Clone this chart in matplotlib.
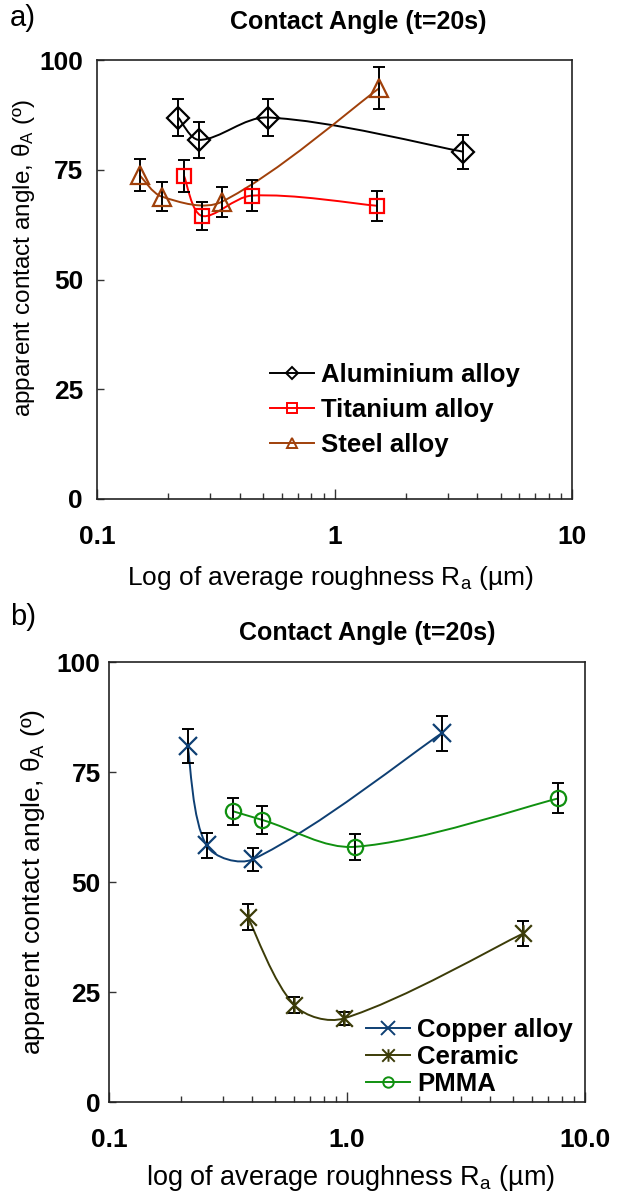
import numpy as np
import matplotlib
matplotlib.use('Agg')
import matplotlib.pyplot as plt
from matplotlib.path import Path
from matplotlib.patches import PathPatch
from matplotlib.lines import Line2D
from matplotlib.ticker import LogLocator, NullFormatter

plt.rcParams['font.family'] = ['Liberation Sans', 'DejaVu Sans']
plt.rcParams['mathtext.fontset'] = 'custom'
plt.rcParams['mathtext.rm'] = 'Liberation Sans'
plt.rcParams['mathtext.it'] = 'Liberation Sans'
plt.rcParams['mathtext.bf'] = 'Liberation Sans:bold'
plt.rcParams['mathtext.default'] = 'regular'

# ---------------- data ----------------
# panel a
al_x = [0.22, 0.269, 0.523, 3.49]
al_y = [86.9, 81.8, 86.9, 79.1]
al_err = [4.3, 4.1, 4.3, 3.9]
ti_x = [0.2325, 0.276, 0.448, 1.505]
ti_y = [73.6, 64.5, 69.1, 66.8]
ti_err = [3.7, 3.2, 3.5, 3.4]
st_x = [0.151, 0.187, 0.335, 1.545]
st_y = [73.8, 68.9, 67.7, 93.6]
st_err = [3.7, 3.4, 3.4, 4.7]
# panel b
cu_x = [0.214, 0.257, 0.404, 2.50]
cu_y = [80.9, 58.3, 55.2, 83.8]
cu_err = [3.9, 2.8, 2.6, 4.0]
ce_x = [0.383, 0.601, 0.971, 5.5]
ce_y = [42.0, 22.0, 19.0, 38.3]
ce_err = [3.0, 1.8, 1.5, 2.8]
pm_x = [0.331, 0.4407, 1.08, 7.73]
pm_y = [66.1, 64.1, 58.0, 69.0]
pm_err = [3.1, 3.2, 3.0, 3.4]

y_ticks = [0, 25, 50, 75, 100]
xa_ticks = [0.1, 1, 10]
xa_labels = ['0.1', '1', '10']
xb_labels = ['0.1', '1.0', '10.0']

labels_a = ['Aluminium alloy', 'Titanium alloy', 'Steel alloy']
labels_b = ['Copper alloy', 'Ceramic', 'PMMA']

c_al, c_ti, c_st = 'black', '#FF0000', '#A0400A'
c_cu, c_ce, c_pm = '#0E3F73', '#3C3C08', '#109010'

asterisk = Path([(-1, -1), (1, 1), (-1, 1), (1, -1), (0, -1), (0, 1)],
                [Path.MOVETO, Path.LINETO, Path.MOVETO, Path.LINETO,
                 Path.MOVETO, Path.LINETO])

W, H = 618, 1196
fig = plt.figure(figsize=(W / 100, H / 100), dpi=100)


def ax_at(l, t, r, b):
    return fig.add_axes([l / W, 1 - b / H, (r - l) / W, (b - t) / H])


def smooth(ax, xs, ys, color, lw=1.4):
    P = ax.transData.transform(np.column_stack([xs, ys]))
    n = len(P)
    verts = [P[0]]
    codes = [Path.MOVETO]
    for i in range(n - 1):
        p0 = P[max(i - 1, 0)]
        p1 = P[i]
        p2 = P[i + 1]
        p3 = P[min(i + 2, n - 1)]
        d01 = np.hypot(*(p1 - p0))
        d12 = np.hypot(*(p2 - p1))
        d23 = np.hypot(*(p3 - p2))
        f1 = d12 / (d01 + d12) / 3 if d01 > 0 else 1 / 6
        f2 = d12 / (d12 + d23) / 3 if d23 > 0 else 1 / 6
        c1 = p1 + (p2 - p0) * f1
        c2 = p2 - (p3 - p1) * f2
        verts += [c1, c2, p2]
        codes += [Path.CURVE4] * 3
    V = ax.transData.inverted().transform(np.array(verts))
    ax.add_patch(PathPatch(Path(V, codes), fill=False, edgecolor=color,
                           lw=lw, transform=ax.transData, zorder=2))


def setup(ax, xlabels, ypad):
    ax.set_xscale('log')
    ax.set_xlim(0.1, 10)
    ax.set_ylim(0, 100)
    ax.set_yticks(y_ticks)
    ax.set_yticklabels([str(v) for v in y_ticks], fontweight='bold', fontsize=19)
    ax.set_xticks(xa_ticks)
    ax.set_xticklabels(xlabels, fontweight='bold', fontsize=19)
    ax.xaxis.set_minor_locator(LogLocator(base=10, subs=np.arange(2, 10)))
    ax.xaxis.set_minor_formatter(NullFormatter())
    ax.tick_params(which='both', direction='in', width=1.0, color='#333333')
    ax.tick_params(axis='y', which='major', length=5, pad=ypad)
    ax.tick_params(axis='x', which='major', length=7, pad=19)
    ax.tick_params(axis='x', which='minor', length=4)
    for s in ax.spines.values():
        s.set_linewidth(1.2)
        s.set_color('#222222')


def series(ax, xs, ys, err, color, marker, ms, lms):
    smooth(ax, xs, ys, color)
    ax.errorbar(xs, ys, yerr=err, fmt='none', ecolor='black', elinewidth=1.4,
                capsize=4.5, capthick=1.4, zorder=3)
    ax.plot(xs, ys, ls='none', marker=marker, ms=ms, mfc='none', mec=color,
            mew=1.6, zorder=4)
    return Line2D([], [], color=color, lw=1.4, marker=marker, ms=lms,
                  mfc='none', mec=color, mew=1.4)


# ---------------- panel a ----------------
axa = ax_at(97, 60, 572, 499)
setup(axa, xa_labels, 10)
h1 = series(axa, al_x, al_y, al_err, c_al, 'D', 11, 6.5)
h2 = series(axa, ti_x, ti_y, ti_err, c_ti, 's', 10.5, 6.5)
h3 = series(axa, st_x, st_y, st_err, c_st, '^', 12.5, 7.5)
axa.legend([h1, h2, h3], labels_a, loc='upper left',
           bbox_to_anchor=(270 / W, 1 - 363 / H), bbox_transform=fig.transFigure,
           frameon=False, prop={'weight': 'bold', 'size': 18.5},
           handlelength=1.7, handletextpad=0.3, labelspacing=0.42, borderpad=0,
           borderaxespad=0)

fig.text(358 / W, 1 - 22 / H, 'Contact Angle (t=20s)', ha='center', va='center',
         fontsize=18, fontweight='bold')
fig.text(10 / W, 1 - 18 / H, 'a)', ha='left', va='center', fontsize=21)
fig.text(24 / W, 1 - 258 / H, 'apparent contact angle, θ$_A$ (º)', rotation=90,
         ha='center', va='center', fontsize=17.5)
fig.text(330 / W, 1 - 578 / H, 'Log of average roughness R$_a$ (µm)', ha='center',
         va='center', fontsize=19)

# ---------------- panel b ----------------
axb = ax_at(109, 662, 585, 1102)
setup(axb, xb_labels, 6)
g1 = series(axb, cu_x, cu_y, cu_err, c_cu, 'x', 13, 10)
g2 = series(axb, ce_x, ce_y, ce_err, c_ce, asterisk, 12, 9)
g3 = series(axb, pm_x, pm_y, pm_err, c_pm, 'o', 11, 7.5)
axb.legend([g1, g2, g3], labels_b, loc='upper left',
           bbox_to_anchor=(366 / W, 1 - 1018 / H), bbox_transform=fig.transFigure,
           frameon=False, prop={'weight': 'bold', 'size': 18.5},
           handlelength=1.7, handletextpad=0.3, labelspacing=0.12, borderpad=0,
           borderaxespad=0)

fig.text(367 / W, 1 - 633 / H, 'Contact Angle (t=20s)', ha='center', va='center',
         fontsize=18, fontweight='bold')
fig.text(10 / W, 1 - 617 / H, 'b)', ha='left', va='center', fontsize=21)
fig.text(33 / W, 1 - 882 / H, 'apparent contact angle, θ$_A$ (º)', rotation=90,
         ha='center', va='center', fontsize=19)
fig.text(350 / W, 1 - 1178 / H, 'log of average roughness R$_a$ (µm)', ha='center',
         va='center', fontsize=19.5)

fig.savefig('out.png', dpi=100)
